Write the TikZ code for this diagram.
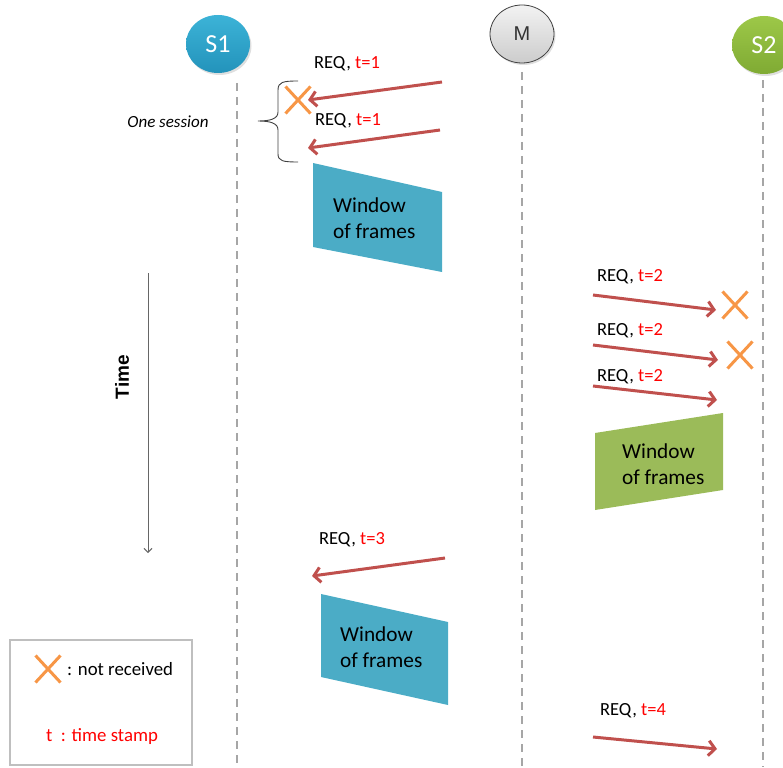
\documentclass[tikz,border=0pt]{standalone}
\usepackage{fontspec}
\setmainfont{Carlito}
\newfontfamily\arialfont{Liberation Sans}
\usetikzlibrary{arrows.meta,shapes.geometric,shapes.misc,shadows}

\definecolor{msgred}{HTML}{C0504D}
\definecolor{xorange}{HTML}{F79646}
\definecolor{winblue}{HTML}{4BACC6}
\definecolor{wingreen}{HTML}{9BBB59}
\definecolor{tsred}{HTML}{FF0000}
\definecolor{lifegray}{HTML}{A6A6A6}
\definecolor{sonetop}{HTML}{3CB3D7}
\definecolor{sonebot}{HTML}{2393BB}
\definecolor{stwotop}{HTML}{9DC848}
\definecolor{stwobot}{HTML}{7FAA33}

\tikzset{
  actor/.style={ellipse, minimum width=64pt, minimum height=58pt, inner sep=0pt,
    drop shadow={opacity=0.25, shadow xshift=1.5pt, shadow yshift=-2pt}},
  lifeline/.style={draw=lifegray, line width=1.6pt, dash pattern=on 8pt off 6pt},
  msg/.style={draw=msgred, line width=3pt, -{Straight Barb[length=6.5pt,width=15pt]}},
  msglabel/.style={font=\fontsize{18.5}{20}\selectfont, inner sep=0pt},
  xmark/.style={cross out, draw=xorange, line width=3pt, minimum width=22pt, minimum height=24pt, inner sep=0pt},
  wintext/.style={font=\fontsize{21.3}{26}\selectfont, align=left, anchor=west, inner sep=0pt},
  legendtext/.style={font=\fontsize{18.8}{21}\selectfont, anchor=west, inner sep=0pt},
}

\newcommand{\req}[1]{REQ, \textcolor{tsred}{t=#1}}

\begin{document}
\begin{tikzpicture}[x=1pt,y=-1pt]
\useasboundingbox (0,0) rectangle (783,767);

% actors
\node[actor, top color=sonetop, bottom color=sonebot, draw=none,
      text=white, font=\fontsize{26}{28}\selectfont] (s1) at (218,44) {S1};
\node[actor, top color=white!95!black, bottom color=black!20, draw=black!75, line width=0.8pt,
      font=\arialfont\fontsize{20}{22}\selectfont, text=black!80] (m) at (522,34) {M};
\node[actor, top color=stwotop, bottom color=stwobot, draw=none,
      text=white, font=\fontsize{26}{28}\selectfont] (s2) at (764,45) {S2};

% lifelines
\coordinate (s1top) at (237,83);  \coordinate (s1bot) at (237,767);
\coordinate (mtop)  at (522,72);  \coordinate (mbot)  at (522,767);
\coordinate (s2top) at (763,80);  \coordinate (s2bot) at (763,767);
\draw[lifeline] (s1top) -- (s1bot);
\draw[lifeline] (mtop) -- (mbot);
\draw[lifeline] (s2top) -- (s2bot);

% time axis
\coordinate (ttop) at (148,273);
\coordinate (tbot) at (148,553);
\draw[black!60, line width=1pt, -{Straight Barb[length=4pt,width=8pt]}] (ttop) -- (tbot);
\node[rotate=90, font=\arialfont\bfseries\fontsize{19}{21}\selectfont] (time) at (122,377) {Time};

% session t=1
\coordinate (a1s) at (442,82);  \coordinate (a1e) at (308,100);
\coordinate (a2s) at (440,130); \coordinate (a2e) at (308,148);
\draw[msg] (a1s) -- (a1e);
\draw[msg] (a2s) -- (a2e);
\node[msglabel] (l1) at (347,64) {\req{1}};
\node[msglabel] (l2) at (348,121) {\req{1}};
\node[xmark] (x1) at (298,100) {};

% session brace
\draw[black!75, line width=0.9pt]
  (298,81) .. controls (283,81) and (278,82) .. (278,90) -- (278,112)
  .. controls (278,119) and (270,121) .. (258,121)
  .. controls (270,121) and (278,123) .. (278,130) -- (278,154)
  .. controls (278,161) and (283,162) .. (298,162);
\node[font=\itshape\fontsize{17}{19}\selectfont] (sess) at (168,122) {One session};

% window of frames at S1
\fill[winblue] (313,163) -- (442,192) -- (442,272) -- (313,247) -- cycle;
\node[wintext] (w1) at (333,218) {Window\\of frames};

% requests to S2, t=2
\coordinate (b1s) at (593,295); \coordinate (b1e) at (716,310);
\coordinate (b2s) at (593,345); \coordinate (b2e) at (718,360);
\coordinate (b3s) at (593,386); \coordinate (b3e) at (717,400);
\draw[msg] (b1s) -- (b1e);
\draw[msg] (b2s) -- (b2e);
\draw[msg] (b3s) -- (b3e);
\node[msglabel] (l3) at (630,277) {\req{2}};
\node[msglabel] (l4) at (630,331) {\req{2}};
\node[msglabel] (l5) at (630,377) {\req{2}};
\node[xmark] (x2) at (735,305) {};
\node[xmark] (x3) at (740,355) {};

% window of frames at S2
\fill[wingreen] (595,433) -- (723,413) -- (723,490) -- (595,510) -- cycle;
\node[wintext] (w2) at (622,464) {Window\\of frames};

% request to S1, t=3
\coordinate (c1s) at (445,558); \coordinate (c1e) at (312,576);
\draw[msg] (c1s) -- (c1e);
\node[msglabel] (l6) at (352,540) {\req{3}};

% window of frames at S1
\fill[winblue] (321,594) -- (448,622) -- (448,705) -- (321,677) -- cycle;
\node[wintext] (w3) at (340,647) {Window\\of frames};

% request to S2, t=4
\coordinate (d1s) at (593,737); \coordinate (d1e) at (717,749);
\draw[msg] (d1s) -- (d1e);
\node[msglabel] (l7) at (633,711) {\req{4}};

% legend
\node[draw=black!25, line width=2.5pt, minimum width=182pt, minimum height=125pt, inner sep=0pt] (legend) at (101,702.5) {};
\node[xmark] (lx) at (48,669) {};
\node[legendtext] (lnr) at (67,669) {: not received};
\node[legendtext, text=tsred] (lts) at (46,737) {t~~: time stamp};
\end{tikzpicture}
\end{document}
